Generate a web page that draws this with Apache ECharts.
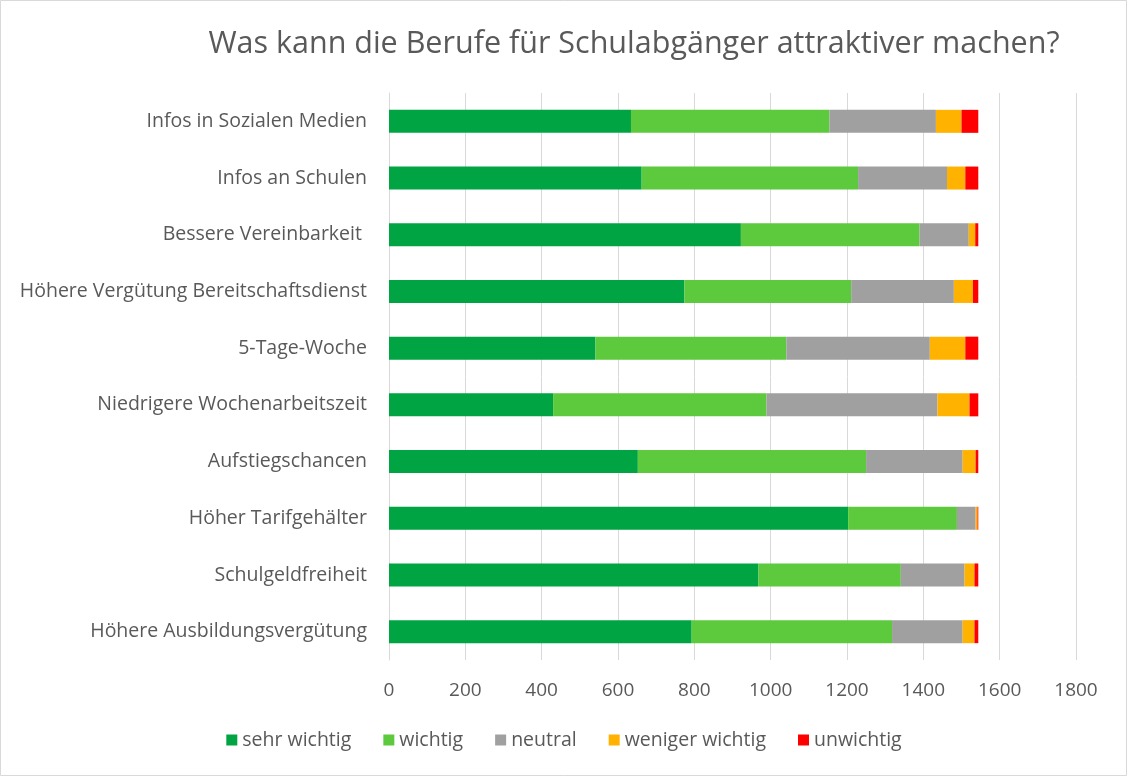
<!DOCTYPE html>
<html>
<head>
<meta charset="utf-8">
<script src="https://cdn.jsdelivr.net/npm/echarts@6/dist/echarts.min.js"></script>
<style>
  html, body { margin: 0; padding: 0; background: #fff; }
  #main { width: 1128px; height: 777px; }
</style>
</head>
<body>
<div id="main"></div>
<script>
// Kategorien (von oben nach unten)
var categories = [
  'Infos in Sozialen Medien',
  'Infos an Schulen',
  'Bessere Vereinbarkeit ',
  'Höhere Vergütung Bereitschaftsdienst',
  '5-Tage-Woche',
  'Niedrigere Wochenarbeitszeit',
  'Aufstiegschancen',
  'Höher Tarifgehälter',
  'Schulgeldfreiheit',
  'Höhere Ausbildungsvergütung'
];
var sehrWichtig    = [634, 662, 922, 774, 541, 430, 652, 1203, 968, 793];
var wichtig        = [520, 567, 468, 437, 500, 559, 598, 285, 373, 525];
var neutral        = [279, 233, 129, 269, 376, 448, 253, 49, 167, 185];
var wenigerWichtig = [67, 48, 17, 50, 93, 84, 34, 5, 26, 31];
var unwichtig      = [44, 34, 8, 14, 34, 23, 7, 2, 10, 10];
var seriesNames = ['sehr wichtig', 'wichtig', 'neutral', 'weniger wichtig', 'unwichtig'];

var dom = document.getElementById('main');
var myChart = echarts.init(dom);
var font = '"Open Sans", "DejaVu Sans", sans-serif';

function bar(name, data, color) {
  return {
    name: name,
    type: 'bar',
    stack: 'total',
    barWidth: 23,
    data: data,
    itemStyle: { color: color }
  };
}

var option = {
  backgroundColor: '#fff',
  animation: false,
  textStyle: { fontFamily: font },
  title: {
    text: 'Was kann die Berufe für Schulabgänger attraktiver machen?',
    left: 629,
    textAlign: 'center',
    top: 24,
    textStyle: { fontFamily: font, fontSize: 30.5, fontWeight: 'normal', color: '#595959' }
  },
  legend: {
    data: seriesNames,
    bottom: 22,
    left: 'center',
    itemWidth: 11,
    itemHeight: 11,
    itemGap: 32,
    icon: 'rect',
    textStyle: { fontFamily: font, fontSize: 19.5, color: '#595959' }
  },
  grid: {
    left: 389,
    right: 52,
    top: 93,
    bottom: 117,
    containLabel: false
  },
  xAxis: {
    type: 'value',
    min: 0,
    max: 1800,
    interval: 200,
    axisLine: { show: false },
    axisTick: { show: false },
    axisLabel: {
      fontFamily: font, fontSize: 19, color: '#595959', margin: 21,
      formatter: function (v) { return String(v); }
    },
    splitLine: { show: true, lineStyle: { color: '#d9d9d9', width: 1 } }
  },
  yAxis: {
    type: 'category',
    inverse: true,
    data: categories,
    axisLine: { show: true, lineStyle: { color: '#d9d9d9' } },
    axisTick: { show: false },
    axisLabel: { fontFamily: font, fontSize: 19.5, color: '#595959', margin: 22 }
  },
  graphic: [{
    type: 'rect',
    shape: { x: 0.5, y: 0.5, width: 1126, height: 775 },
    style: { fill: 'none', stroke: '#d9d9d9', lineWidth: 1 },
    silent: true
  }],
  series: [
    bar(seriesNames[0], sehrWichtig, '#00a443'),
    bar(seriesNames[1], wichtig, '#5dc93c'),
    bar(seriesNames[2], neutral, '#a0a0a0'),
    bar(seriesNames[3], wenigerWichtig, '#ffb300'),
    bar(seriesNames[4], unwichtig, '#ff0000')
  ]
};
myChart.setOption(option, true);
</script>
</body>
</html>
